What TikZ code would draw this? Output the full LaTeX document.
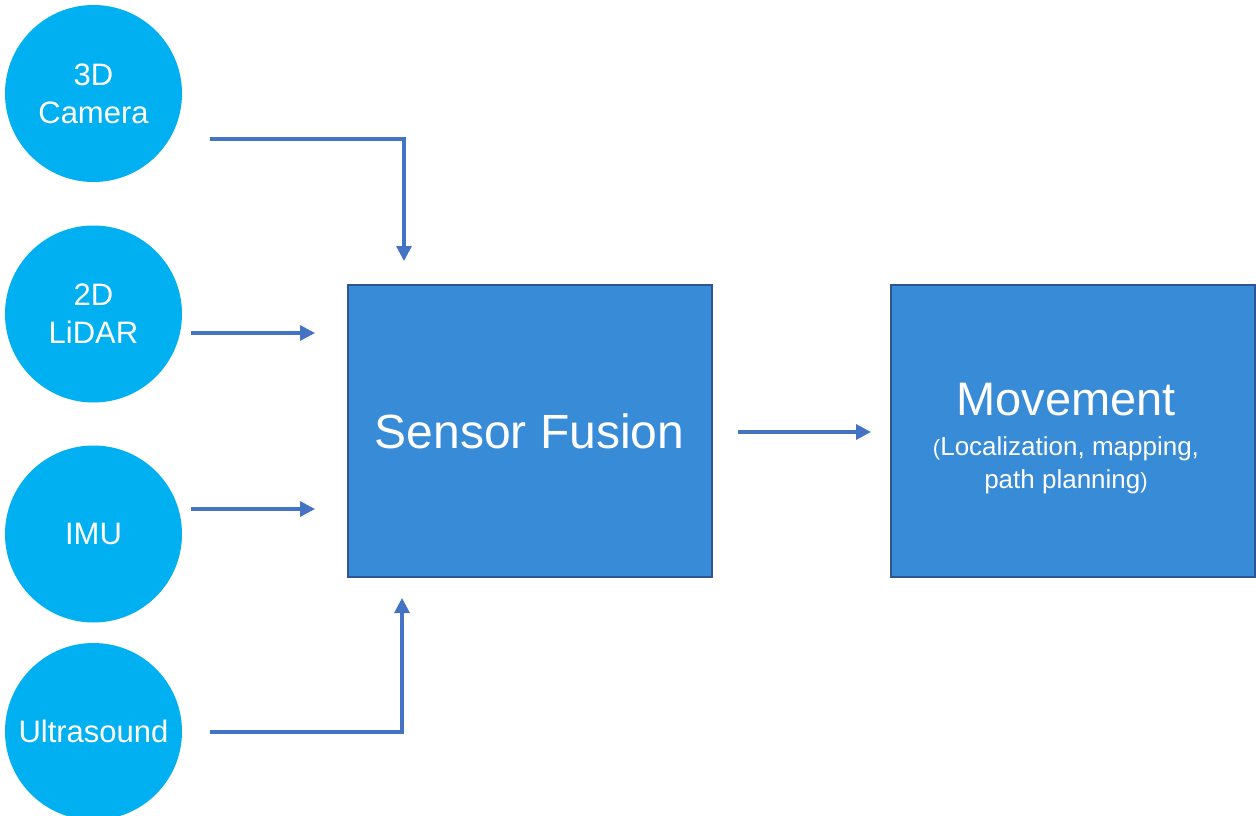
\documentclass[tikz,border=0pt]{standalone}
\usepackage{fontspec}
\setmainfont{Liberation Sans}
\usetikzlibrary{arrows.meta}
\definecolor{circ}{HTML}{00B0F0}
\definecolor{boxfill}{HTML}{388BD6}
\definecolor{boxedge}{HTML}{2F5597}
\definecolor{arr}{HTML}{4472C4}
\begin{document}
\begin{tikzpicture}[x=1pt,y=-1pt,
  sensor/.style={circle, fill=circ, minimum size=177pt, inner sep=0pt, text=white, align=center,
    font=\fontsize{31}{38}\selectfont},
  block/.style={rectangle, fill=boxfill, draw=boxedge, line width=2pt, minimum width=364pt, minimum height=292pt, inner sep=0pt},
  conn/.style={draw=arr, line width=3.2pt, -{Triangle[length=15pt,width=15pt]}},
  subtext/.style={text=white, anchor=base, inner sep=0pt, font=\fontsize{26}{33}\selectfont}
]
\useasboundingbox (0,0) rectangle (1256,816);
% sensors
\node[sensor] (cam) at (93.5,93.5) {3D\\Camera};
\node[sensor] (lid) at (93.5,314) {2D\\LiDAR};
\node[sensor] (imu) at (93.5,534) {IMU};
\node[sensor] (ult) at (93.5,731.5) {Ultrasound};
% blocks
\node[block] (sf) at (529.5,431) {};
\node[text=white, font=\fontsize{48}{48}\selectfont] (sft) at (529.5,431) {Sensor Fusion};
\node[block] (mv) at (1073,431) {};
\node[text=white, anchor=base, inner sep=0pt, font=\fontsize{47}{47}\selectfont] (mvt) at (1066,415) {Movement};
\node[subtext] (mvs1) at (1066,455) {{\fontsize{22}{22}\selectfont(}Localization, mapping,};
\node[subtext] (mvs2) at (1066,488) {path planning{\fontsize{22}{22}\selectfont)}};
% connector end points
\coordinate (camS) at (210,139);
\coordinate (camE) at (404,261);
\coordinate (lidS) at (191,333);
\coordinate (lidE) at (315,333);
\coordinate (imuS) at (191,509);
\coordinate (imuE) at (315,509);
\coordinate (ultS) at (210,732);
\coordinate (ultE) at (402,598);
\coordinate (sfS) at (738,432);
\coordinate (sfE) at (871,432);
% connectors
\draw[conn] (camS) -| (camE);
\draw[conn] (lidS) -- (lidE);
\draw[conn] (imuS) -- (imuE);
\draw[conn] (ultS) -| (ultE);
\draw[conn] (sfS) -- (sfE);
\end{tikzpicture}
\end{document}
